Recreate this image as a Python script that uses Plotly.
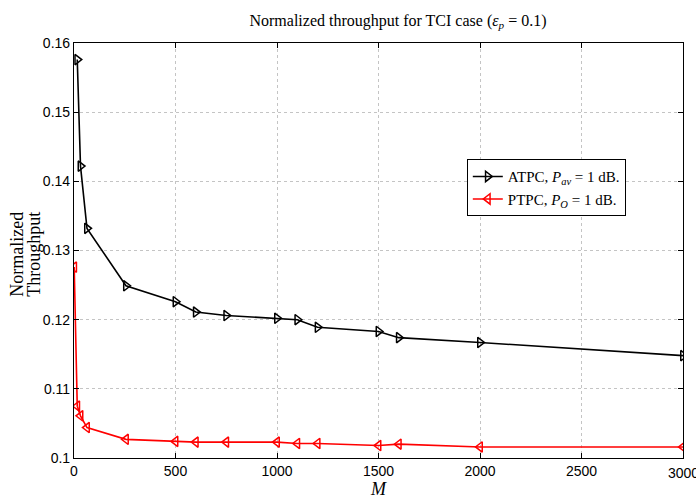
import plotly.graph_objects as go

M_atpc = [16, 32, 64, 256, 500, 600, 750, 1000, 1100, 1200, 1500, 1600, 2000, 3000]
thr_atpc = [0.1576, 0.1422, 0.1332, 0.1249, 0.1226, 0.1211, 0.1206, 0.1202, 0.1200,
            0.1189, 0.1183, 0.1174, 0.1167, 0.1148]
M_ptpc = [1, 16, 32, 64, 256, 500, 600, 750, 1000, 1100, 1200, 1500, 1600, 2000, 3000]
thr_ptpc = [0.1276, 0.1075, 0.1061, 0.1044, 0.1027, 0.1024, 0.1023, 0.1023, 0.1023,
            0.1021, 0.1021, 0.1018, 0.1020, 0.1016, 0.1016]

x_ticks = [0, 500, 1000, 1500, 2000, 2500, 3000]
y_ticks = [0.10, 0.11, 0.12, 0.13, 0.14, 0.15, 0.16]
y_tick_text = ["0.1", "0.11", "0.12", "0.13", "0.14", "0.15", "0.16"]

serif = "Liberation Serif"
sans = "Liberation Sans"
W, H = 696, 498
L, R, T, B = 74, 13, 43, 40

fig = go.Figure()
fig.add_trace(go.Scatter(
    x=M_atpc, y=thr_atpc, mode="lines+markers",
    name="ATPC, <i>P</i><sub><i>av</i></sub> = 1 dB.",
    line=dict(color="black", width=1.6),
    marker=dict(symbol="triangle-right-open", size=9, color="black", line=dict(width=1.5)),
))
fig.add_trace(go.Scatter(
    x=M_ptpc, y=thr_ptpc, mode="lines+markers",
    name="PTPC, <i>P</i><sub><i>O</i></sub> = 1 dB.",
    line=dict(color="red", width=1.6),
    marker=dict(symbol="triangle-left-open", size=9, color="red", line=dict(width=1.5)),
))

axis_common = dict(
    showline=True, linecolor="black", linewidth=1.2, mirror="allticks",
    ticks="inside", ticklen=5, tickcolor="black",
    showgrid=True, gridcolor="#c4c4c4", griddash="dot", gridwidth=1,
    zeroline=False, tickfont=dict(family=sans, size=14, color="black"),
)

fig.update_xaxes(range=[0, 3000], tickvals=x_ticks[:-1], **axis_common)
fig.update_yaxes(range=[0.1, 0.16], tickvals=y_ticks, ticktext=y_tick_text, **axis_common)

annotations = [
    dict(text=str(x_ticks[-1]), xref="x", yref="paper", x=x_ticks[-1], y=-0.0,
         yshift=-5, xanchor="center", yanchor="top", showarrow=False,
         font=dict(family=sans, size=14, color="black")),
    dict(text="Normalized", textangle=-90, xref="paper", yref="paper",
         x=(17 - L) / (W - L - R), y=0.49, xanchor="center", yanchor="middle", showarrow=False,
         font=dict(family=serif, size=18, color="black")),
    dict(text="Throughput", textangle=-90, xref="paper", yref="paper",
         x=(34 - L) / (W - L - R), y=0.49, xanchor="center", yanchor="middle", showarrow=False,
         font=dict(family=serif, size=18, color="black")),
    dict(text="<i>M</i>", xref="paper", yref="paper", x=0.5, y=-0.075,
         xanchor="center", yanchor="middle", showarrow=False,
         font=dict(family=serif, size=18, color="black")),
]

fig.update_layout(
    width=W, height=H,
    margin=dict(l=L, r=R, t=T, b=B),
    plot_bgcolor="white", paper_bgcolor="white",
    title=dict(text="Normalized throughput for TCI case (<i>ε</i><sub><i>p</i></sub> = 0.1)",
               font=dict(family=serif, size=16, color="black"),
               x=398 / W, xanchor="center", xref="container", y=1 - 20 / H, yanchor="middle",
               yref="container"),
    legend=dict(x=0.645, y=0.72, xanchor="left", yanchor="top",
                bgcolor="white", bordercolor="black", borderwidth=1,
                font=dict(family=serif, size=15, color="black"),
                tracegroupgap=2),
    showlegend=True,
    annotations=annotations,
)

fig.write_html("out.html")
